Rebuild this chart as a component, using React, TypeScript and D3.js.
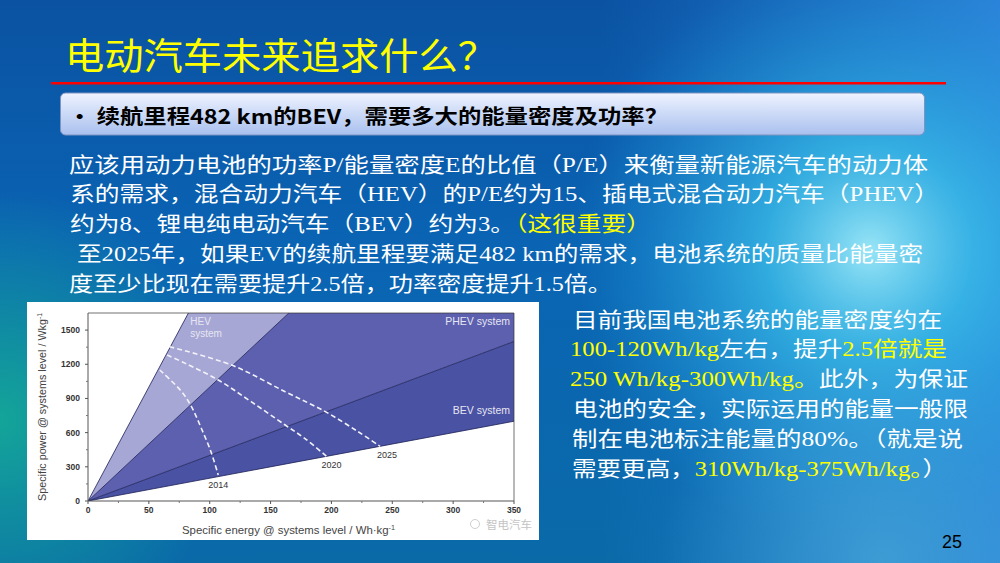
import * as d3 from 'd3';

// ---- slide text ----
const TITLE = '电动汽车未来追求什么？';
const SUBTITLE = '• 续航里程482 km的BEV，需要多大的能量密度及功率？';

// each line: list of [text, highlighted]
const PARAGRAPH: [string, boolean][][] = [
  [['应该用动力电池的功率P/能量密度E的比值（P/E）来衡量新能源汽车的动力体', false]],
  [['系的需求，混合动力汽车（HEV）的P/E约为15、插电式混合动力汽车（PHEV）', false]],
  [['约为8、锂电纯电动汽车（BEV）约为3。', false], ['（这很重要）', true]],
  [['至2025年，如果EV的续航里程要满足482 km的需求，电池系统的质量比能量密', false]],
  [['度至少比现在需要提升2.5倍，功率密度提升1.5倍。', false]],
];

const SIDE_NOTE: [string, boolean][][] = [
  [['目前我国电池系统的能量密度约在', false]],
  [['100-120Wh/kg', true], ['左右，提升', false], ['2.5倍就是', true]],
  [['250 Wh/kg-300Wh/kg。', true], ['此外，为保证', false]],
  [['电池的安全，实际运用的能量一般限', false]],
  [['制在电池标注能量的80%。（就是说', false]],
  [['需要更高，', false], ['310Wh/kg-375Wh/kg。', true], ['）', false]],
];

// ---- chart data ----
const X_TICKS = [0, 50, 100, 150, 200, 250, 300, 350];
const Y_TICKS = [0, 300, 600, 900, 1200, 1500];
// P/E boundary slopes (W/Wh) between the regions, steepest first
const BOUNDARY_SLOPES = [20, 10, 4, 2];
const REGION_NAMES = ['HEV', 'PHEV system', 'BEV system'];

const CURVE_YEARS = ['2014', '2020', '2025'];
const CURVE_2014: [number, number][] = [[59, 1150], [77, 959], [85, 828], [93, 641], [101, 433], [107, 228]];
const CURVE_2020: [number, number][] = [[65, 1281], [80, 1208], [107, 1062], [134, 872], [162, 667], [178, 550], [196, 392]];
const CURVE_2025: [number, number][] = [[67, 1354], [118, 1193], [162, 959], [195, 784], [222, 608], [240, 480]];
const CURVES = [CURVE_2014, CURVE_2020, CURVE_2025];

const REGION_COLORS = ['#a7a7d5', '#5c60af', '#4a52a3'];
const FONT_CJK = '"Noto Sans CJK SC", "Noto Sans", sans-serif';
const FONT_TEXT = '"Liberation Serif", "Noto Sans CJK SC", serif';
const FONT_AXIS = '"Liberation Sans", Arial, sans-serif';

const x = d3.scaleLinear().domain([0, 350]).range([88, 514]);
const y = d3.scaleLinear().domain([0, 1650]).range([501, 313]);

function TextLine({ parts, lx, by, len, size }: { parts: [string, boolean][]; lx: number; by: number; len: number; size: number }) {
  return (
    <text x={lx} y={by} fontSize={size} fontFamily={FONT_TEXT} textLength={len} lengthAdjust="spacingAndGlyphs">
      {parts.map(([t, hl], i) => (
        <tspan key={i} fill={hl ? '#ffff00' : '#ffffff'}>{t}</tspan>
      ))}
    </text>
  );
}

function Chart() {
  const [x0, x1] = x.range();
  const [yb, yt] = y.range();
  const xMax = x.domain()[1];

  const regions = REGION_COLORS.map((c, i) => {
    const s1 = BOUNDARY_SLOPES[i];
    const s2 = BOUNDARY_SLOPES[i + 1];
    const pts: [number, number][] = [[0, 0], [xMax, s1 * xMax], [xMax, s2 * xMax]];
    return { c, d: 'M' + pts.map(([a, b]) => `${x(a)},${y(b)}`).join('L') + 'Z' };
  });

  const line = d3.line<[number, number]>()
    .x((p) => x(p[0]))
    .y((p) => y(p[1]))
    .curve(d3.curveCatmullRom.alpha(0.5));

  const labelOffsets = [[0, 13], [5, 12], [7, 12]];
  const xMinor = d3.range(25, 350, 50);
  const yMinor = d3.range(150, 1650, 300);

  return (
    <g>
      <rect x={27} y={302} width={512} height={238} fill="#ffffff" />
      <defs>
        <clipPath id="plot">
          <rect x={x0} y={yt} width={x1 - x0} height={yb - yt} />
        </clipPath>
      </defs>
      <g clipPath="url(#plot)">
        {regions.map((r, i) => <path key={i} d={r.d} fill={r.c} />)}
        {BOUNDARY_SLOPES.map((s, i) => (
          <line key={i} x1={x(0)} y1={y(0)} x2={x(xMax)} y2={y(s * xMax)} stroke="#1c1f55" strokeWidth={0.8} />
        ))}
        {CURVES.map((c, i) => (
          <path key={i} d={line(c) || ''} fill="none" stroke="#f2f2fa" strokeWidth={1.6} strokeDasharray="5,3" />
        ))}
      </g>
      {/* frame */}
      <path d={`M${x0},${yt}H${x1}V${yb}`} fill="none" stroke="#333" strokeWidth={0.7} />
      <line x1={x0} y1={yt} x2={x0} y2={yb} stroke="#555" strokeWidth={1} />
      <line x1={x0} y1={yb} x2={x1} y2={yb} stroke="#555" strokeWidth={1} />

      {X_TICKS.map((t) => (
        <g key={t}>
          <line x1={x(t)} x2={x(t)} y1={yb} y2={yb + 3} stroke="#555" />
          <text x={x(t)} y={yb + 12} textAnchor="middle" fontSize={8.5} fontWeight="bold" fill="#333" fontFamily={FONT_AXIS}>{t}</text>
        </g>
      ))}
      {xMinor.map((t) => <line key={t} x1={x(t)} x2={x(t)} y1={yb} y2={yb + 2} stroke="#777" />)}
      {Y_TICKS.map((t) => (
        <g key={t}>
          <line x1={x0 - 3} x2={x0} y1={y(t)} y2={y(t)} stroke="#555" />
          <text x={x0 - 8} y={y(t) + 3} textAnchor="end" fontSize={8.5} fontWeight="bold" fill="#333" fontFamily={FONT_AXIS}>{t}</text>
        </g>
      ))}
      {yMinor.map((t) => <line key={t} x1={x0 - 2} x2={x0} y1={y(t)} y2={y(t)} stroke="#777" />)}

      <text x={x(84)} y={y(1500) - 5} fontSize={10} fill="#e6e6f2" fontFamily={FONT_AXIS}>{REGION_NAMES[0]}</text>
      <text x={x(84)} y={y(1500) + 7} fontSize={10} fill="#e6e6f2" fontFamily={FONT_AXIS}>system</text>
      <text x={x1 - 4} y={y(1500) - 5} textAnchor="end" fontSize={10.5} fill="#e6e6f2" fontFamily={FONT_AXIS}>{REGION_NAMES[1]}</text>
      <text x={x1 - 4} y={y(760)} textAnchor="end" fontSize={10.5} fill="#e6e6f2" fontFamily={FONT_AXIS}>{REGION_NAMES[2]}</text>

      {CURVES.map((c, i) => {
        const [ex, ey] = c[c.length - 1];
        return (
          <text key={i} x={x(ex) + labelOffsets[i][0]} y={y(ey) + labelOffsets[i][1]} textAnchor="middle" fontSize={9} fill="#333" fontFamily={FONT_AXIS}>
            {CURVE_YEARS[i]}
          </text>
        );
      })}

      <text transform={`translate(46,${(yb + yt) / 2}) rotate(-90)`} textAnchor="middle" fontSize={11} fill="#444" fontFamily={FONT_AXIS} textLength={188} lengthAdjust="spacingAndGlyphs">
        Specific power @ systems level / Wkg<tspan dy={-4} fontSize={7}>-1</tspan>
      </text>
      <text x={182} y={534} fontSize={11} fill="#444" fontFamily={FONT_AXIS} textLength={213} lengthAdjust="spacingAndGlyphs">
        Specific energy @ systems level / Wh·kg<tspan dy={-4} fontSize={7}>-1</tspan>
      </text>
      <text x={486} y={529} fontSize={11.5} fill="#c4c4c4" fontFamily={FONT_CJK}>智电汽车</text>
      <circle cx={475} cy={524} r={4.5} fill="none" stroke="#cfcfcf" strokeWidth={1} />
    </g>
  );
}

const PARA_LAYOUT = [
  { lx: 69, by: 172, len: 859 },
  { lx: 70, by: 201, len: 869 },
  { lx: 70, by: 231, len: 581 },
  { lx: 77, by: 261, len: 846 },
  { lx: 69, by: 291, len: 543 },
];
const SIDE_LAYOUT = [
  { lx: 573, by: 327, len: 369 },
  { lx: 570, by: 356, len: 377 },
  { lx: 570, by: 386, len: 398 },
  { lx: 573, by: 416, len: 395 },
  { lx: 572, by: 446, len: 391 },
  { lx: 572, by: 476, len: 375 },
];

export default function App() {
  return (
    <div style={{ position: 'fixed', left: 0, top: 0, width: 1000, height: 563 }}>
      <svg width={1000} height={563} style={{ display: 'block' }}>
        <defs>
          <linearGradient id="bg" x1="0" y1="0" x2="0" y2="1">
            <stop offset="0" stopColor="#0b52a2" />
            <stop offset="0.45" stopColor="#0a64b4" />
            <stop offset="1" stopColor="#0a6aa8" />
          </linearGradient>
          <linearGradient id="bgR" x1="0" y1="0" x2="1" y2="0">
            <stop offset="0.6" stopColor="#2a8ee8" stopOpacity={0} />
            <stop offset="1" stopColor="#3a96f0" stopOpacity={0.7} />
          </linearGradient>
          <radialGradient id="glowC" cx="870" cy="250" r="300" gradientUnits="userSpaceOnUse">
            <stop offset="0" stopColor="#9eeaf8" stopOpacity={0.95} />
            <stop offset="0.35" stopColor="#3cc4ea" stopOpacity={0.7} />
            <stop offset="1" stopColor="#1a9ad8" stopOpacity={0} />
          </radialGradient>
          <radialGradient id="glowT" cx="0" cy="420" r="230" gradientUnits="userSpaceOnUse">
            <stop offset="0" stopColor="#14a898" stopOpacity={0.95} />
            <stop offset="1" stopColor="#14a898" stopOpacity={0} />
          </radialGradient>
          <radialGradient id="glowB" cx="880" cy="560" r="220" gradientUnits="userSpaceOnUse">
            <stop offset="0" stopColor="#4aa8d8" stopOpacity={0.7} />
            <stop offset="1" stopColor="#4aa8d8" stopOpacity={0} />
          </radialGradient>
          <linearGradient id="box" x1="0" y1="0" x2="0" y2="1">
            <stop offset="0" stopColor="#eef3ff" />
            <stop offset="1" stopColor="#a9c0ee" />
          </linearGradient>
        </defs>
        <rect width={1000} height={563} fill="url(#bg)" />
        <rect width={1000} height={563} fill="url(#bgR)" />
        <rect width={1000} height={563} fill="url(#glowC)" />
        <rect width={1000} height={563} fill="url(#glowT)" />
        <rect width={1000} height={563} fill="url(#glowB)" />

        <text x={65} y={70} fontSize={37} fill="#ffff00" fontFamily={FONT_CJK} textLength={432} lengthAdjust="spacingAndGlyphs">{TITLE}</text>
        <rect x={51} y={82} width={895} height={2.5} fill="#ff0000" />

        <rect x={60.5} y={93} width={864} height={42} rx={5} fill="url(#box)" stroke="#7f93c0" strokeWidth={1} />
        <text x={68} y={124} fontSize={20} fontWeight="bold" fill="#000" fontFamily={FONT_CJK} textLength={600} lengthAdjust="spacingAndGlyphs">{SUBTITLE}</text>

        {PARAGRAPH.map((parts, i) => (
          <TextLine key={i} parts={parts} size={21} {...PARA_LAYOUT[i]} />
        ))}
        {SIDE_NOTE.map((parts, i) => (
          <TextLine key={i} parts={parts} size={21} {...SIDE_LAYOUT[i]} />
        ))}

        <Chart />

        <text x={942} y={548} fontSize={18} fill="#000" fontFamily={FONT_AXIS}>25</text>
      </svg>
    </div>
  );
}
